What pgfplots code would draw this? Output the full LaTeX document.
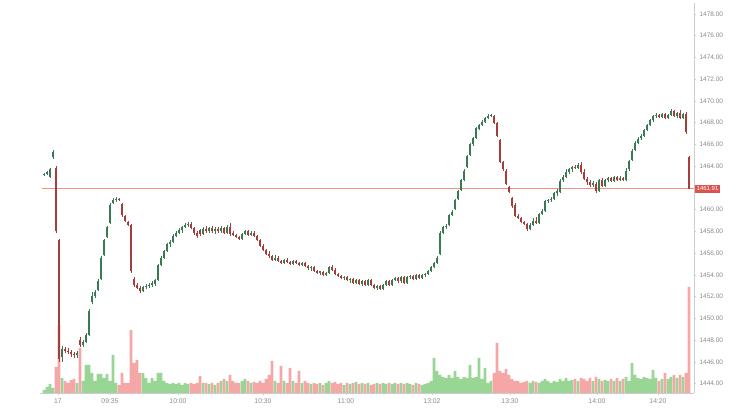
\documentclass[border=0pt]{standalone}
\usepackage{pgfplots}
\pgfplotsset{compat=1.18}
\usepackage{pgfplotstable}
\usepackage{fontspec}
\setmainfont{Liberation Sans}
\definecolor{upc}{HTML}{3A7A52}
\definecolor{dnc}{HTML}{A33E3B}
\definecolor{vup}{HTML}{8ED08A}
\definecolor{vdn}{HTML}{F49C9C}
\definecolor{axc}{HTML}{CCCCCC}
\definecolor{txc}{HTML}{8A8A8A}
\definecolor{lastc}{HTML}{D9534F}
\definecolor{refline}{HTML}{F0907E}
\pgfplotstableread{
x o h l c v
44 1463.2 1463.4 1463.1 1463.3 3
47 1463.3 1463.6 1463.2 1463.5 6
50 1463.0 1463.8 1462.9 1463.7 9
53 1464.8 1465.5 1464.7 1465.3 5
56 1463.8 1464.0 1457.9 1458.0 26
59 1457.2 1457.3 1446.0 1446.3 68
62 1446.5 1447.5 1446.0 1447.2 15
65 1447.2 1447.4 1446.8 1447.0 12
68 1447.0 1447.3 1446.7 1446.9 10
71 1446.9 1447.1 1446.5 1446.7 13
74 1446.7 1446.9 1446.4 1446.6 14
77 1446.6 1447.0 1446.4 1446.8 10
80 1448.0 1448.3 1447.4 1447.6 45
83 1447.6 1448.0 1447.4 1447.8 12
86 1447.8 1448.7 1447.7 1448.5 28
89 1448.5 1450.9 1448.4 1450.7 28
92 1451.5 1452.4 1451.3 1452.1 20
95 1452.1 1452.6 1451.9 1452.4 12
98 1452.6 1453.6 1452.5 1453.4 19
101 1453.6 1455.7 1453.5 1455.6 19
104 1455.8 1457.3 1455.7 1457.2 15
107 1457.5 1458.5 1457.4 1458.4 19
110 1458.8 1460.6 1458.7 1460.4 12
113 1460.6 1461.1 1460.5 1460.9 38
116 1460.9 1461.2 1460.7 1461.0 10
119 1461.0 1461.1 1460.8 1460.9 8
122 1460.5 1460.6 1459.3 1459.5 20
125 1459.4 1459.5 1458.9 1459.0 10
128 1458.9 1459.0 1458.5 1458.6 10
131 1458.6 1458.7 1454.2 1454.4 63
134 1453.6 1453.8 1452.9 1453.1 30
137 1453.1 1453.3 1452.7 1452.8 33
140 1452.8 1453.0 1452.3 1452.5 20
143 1452.5 1453.0 1452.4 1452.9 20
146 1452.9 1453.2 1452.7 1453.0 15
149 1453.0 1453.3 1452.8 1453.1 10
152 1453.1 1453.4 1452.9 1453.2 15
155 1453.2 1453.6 1453.0 1453.5 12
158 1453.5 1455.0 1453.4 1454.9 20
161 1454.9 1455.7 1454.8 1455.6 20
164 1455.6 1456.3 1455.5 1456.2 12
167 1456.2 1456.9 1456.1 1456.8 10
170 1456.8 1457.2 1456.6 1457.0 9
173 1457.0 1457.8 1456.9 1457.6 10
176 1457.6 1458.0 1457.5 1457.9 9
179 1457.9 1458.3 1457.8 1458.1 10
182 1458.1 1458.5 1457.9 1458.4 8
185 1458.4 1458.8 1458.3 1458.6 10
188 1458.6 1458.9 1458.4 1458.7 9
191 1458.7 1458.9 1458.2 1458.3 10
194 1458.3 1458.4 1457.7 1457.9 9
197 1457.9 1458.0 1457.4 1457.6 10
200 1458.1 1458.2 1457.6 1457.8 17
203 1457.8 1458.4 1457.7 1458.2 10
206 1458.2 1458.5 1457.9 1458.0 10
209 1458.0 1458.4 1457.9 1458.3 9
212 1458.3 1458.5 1457.9 1458.0 10
215 1458.0 1458.4 1457.8 1458.2 8
218 1458.2 1458.4 1457.9 1458.0 10
221 1458.0 1458.5 1457.9 1458.3 12
224 1458.3 1458.4 1457.8 1457.9 14
227 1457.9 1458.6 1457.8 1458.4 12
230 1458.4 1458.8 1457.6 1457.8 18
233 1457.8 1458.0 1457.6 1457.7 12
236 1457.7 1457.8 1457.4 1457.5 10
239 1457.5 1457.6 1457.2 1457.3 10
242 1457.3 1457.9 1457.2 1457.8 12
245 1457.8 1458.1 1457.7 1458.0 14
248 1458.0 1458.1 1457.6 1457.7 12
251 1457.7 1458.0 1457.6 1457.9 10
254 1457.9 1458.0 1457.5 1457.6 11
257 1457.6 1457.7 1457.1 1457.2 10
260 1457.2 1457.3 1456.6 1456.7 12
263 1456.7 1456.8 1456.2 1456.3 10
266 1456.3 1456.4 1455.8 1455.9 14
269 1455.9 1456.2 1455.6 1455.7 18
272 1455.7 1455.8 1455.3 1455.4 32
275 1455.4 1455.8 1455.3 1455.6 12
278 1455.6 1455.7 1455.2 1455.3 10
281 1455.3 1455.4 1455.0 1455.1 27
284 1455.1 1455.5 1455.0 1455.4 12
287 1455.4 1455.6 1455.1 1455.2 10
290 1455.2 1455.3 1454.9 1455.0 25
293 1455.0 1455.4 1454.9 1455.3 12
296 1455.3 1455.4 1455.0 1455.1 10
299 1455.1 1455.2 1454.8 1454.9 22
302 1454.9 1455.2 1454.8 1455.1 10
305 1455.1 1455.2 1454.7 1454.8 12
308 1454.8 1454.9 1454.5 1454.6 10
311 1454.6 1454.8 1454.4 1454.7 9
314 1454.7 1454.8 1454.3 1454.4 10
317 1454.4 1454.5 1454.1 1454.2 9
320 1454.2 1454.4 1454.0 1454.3 10
323 1454.3 1454.4 1453.9 1454.0 8
326 1454.0 1454.3 1453.9 1454.2 10
329 1454.2 1454.8 1454.1 1454.7 12
332 1454.7 1454.9 1454.4 1454.5 10
335 1454.5 1454.6 1454.0 1454.1 11
338 1454.1 1454.2 1453.8 1453.9 9
341 1453.9 1454.0 1453.6 1453.7 10
344 1453.7 1453.9 1453.5 1453.8 8
347 1453.8 1453.9 1453.4 1453.5 10
350 1453.5 1453.7 1453.3 1453.6 9
353 1453.6 1453.7 1453.2 1453.3 10
356 1453.3 1453.6 1453.2 1453.5 11
359 1453.5 1453.6 1453.1 1453.2 9
362 1453.2 1453.5 1453.0 1453.4 10
365 1453.4 1453.5 1453.0 1453.1 9
368 1453.1 1453.6 1453.0 1453.5 10
371 1453.5 1453.6 1453.0 1453.1 8
374 1453.1 1453.2 1452.7 1452.8 9
377 1452.8 1453.1 1452.6 1453.0 10
380 1453.0 1453.1 1452.6 1452.7 9
383 1452.7 1453.2 1452.6 1453.1 10
386 1453.1 1453.5 1453.0 1453.4 9
389 1453.4 1453.5 1453.0 1453.1 10
392 1453.1 1453.6 1453.0 1453.5 9
395 1453.5 1453.8 1453.4 1453.7 10
398 1453.7 1453.8 1453.3 1453.4 9
401 1453.4 1453.9 1453.3 1453.8 10
404 1453.8 1453.9 1453.2 1453.3 9
407 1453.3 1453.9 1453.2 1453.8 10
410 1453.8 1454.0 1453.6 1453.9 9
413 1453.9 1454.0 1453.5 1453.6 8
416 1453.6 1454.1 1453.5 1454.0 10
419 1454.0 1454.1 1453.6 1453.7 9
422 1453.7 1454.1 1453.6 1454.0 8
425 1454.0 1454.2 1453.8 1454.1 9
428 1454.1 1454.5 1454.0 1454.4 10
431 1454.4 1454.8 1454.3 1454.7 12
434 1454.7 1455.2 1454.6 1455.1 35
437 1455.1 1455.7 1455.0 1455.6 22
440 1455.9 1458.0 1455.8 1457.9 18
443 1457.9 1458.5 1457.8 1458.4 16
446 1458.4 1458.7 1458.2 1458.5 15
449 1458.6 1459.6 1458.5 1459.5 18
452 1459.5 1460.0 1459.4 1459.8 15
455 1460.1 1461.0 1460.0 1460.9 22
458 1461.0 1461.8 1460.9 1461.7 16
461 1461.8 1462.8 1461.7 1462.7 14
464 1462.7 1463.7 1462.6 1463.6 16
467 1463.9 1465.0 1463.8 1464.9 15
470 1465.0 1466.1 1464.9 1466.0 28
473 1466.0 1466.7 1465.9 1466.6 15
476 1466.6 1467.6 1466.5 1467.5 16
479 1467.4 1467.9 1467.3 1467.8 35
482 1467.8 1468.2 1467.7 1468.1 14
485 1468.1 1468.5 1468.0 1468.4 25
488 1468.4 1468.8 1468.3 1468.6 10
491 1468.6 1468.8 1468.5 1468.7 12
494 1468.6 1468.7 1467.9 1468.0 20
497 1468.0 1468.1 1466.7 1466.8 50
500 1466.4 1466.5 1464.3 1464.4 22
503 1464.4 1464.5 1463.6 1463.7 20
506 1463.6 1463.7 1462.3 1462.4 24
509 1462.1 1462.2 1461.5 1461.6 18
512 1461.1 1461.2 1460.2 1460.3 14
515 1460.4 1460.6 1459.3 1459.4 12
518 1459.4 1459.6 1459.1 1459.2 12
521 1459.2 1459.3 1458.8 1458.9 10
524 1458.9 1459.0 1458.6 1458.7 11
527 1458.7 1458.8 1458.0 1458.2 12
530 1458.2 1458.8 1458.1 1458.6 10
533 1458.6 1459.2 1458.5 1459.0 12
536 1459.0 1459.3 1458.7 1458.8 11
539 1458.8 1459.7 1458.7 1459.6 10
542 1459.6 1460.1 1459.5 1459.9 12
545 1459.9 1460.9 1459.8 1460.8 14
548 1460.8 1461.0 1460.6 1460.9 12
551 1460.9 1461.2 1460.7 1461.0 10
554 1461.0 1461.6 1460.9 1461.5 12
557 1461.5 1461.9 1461.3 1461.7 11
560 1461.6 1462.8 1461.5 1462.6 14
563 1462.7 1463.2 1462.5 1463.0 12
566 1463.0 1463.7 1462.9 1463.5 15
569 1463.5 1463.8 1463.3 1463.7 12
572 1463.7 1464.0 1463.5 1463.9 13
575 1463.9 1464.1 1463.7 1463.8 14
578 1463.8 1464.3 1463.7 1464.1 12
581 1464.1 1464.4 1463.3 1463.5 15
584 1463.5 1463.7 1462.7 1462.8 14
587 1462.8 1463.0 1462.3 1462.5 12
590 1462.5 1462.7 1462.1 1462.3 15
593 1462.3 1462.6 1462.1 1462.4 12
596 1462.4 1462.5 1461.5 1461.7 16
599 1461.7 1462.8 1461.6 1462.7 14
602 1462.7 1462.9 1462.1 1462.2 12
605 1462.2 1462.8 1462.1 1462.7 13
608 1462.7 1463.0 1462.5 1462.9 12
611 1462.9 1463.0 1462.5 1462.6 14
614 1462.6 1463.1 1462.5 1463.0 12
617 1463.0 1463.1 1462.6 1462.7 15
620 1462.7 1463.1 1462.6 1462.9 12
623 1462.9 1463.0 1462.6 1462.7 14
626 1462.7 1463.8 1462.6 1463.6 16
629 1463.7 1464.6 1463.6 1464.5 12
632 1464.6 1465.6 1464.5 1465.4 30
635 1465.5 1466.3 1465.4 1466.1 18
638 1466.1 1466.7 1466.0 1466.5 15
641 1466.6 1467.0 1466.4 1466.8 14
644 1466.8 1467.4 1466.7 1467.3 16
647 1467.3 1467.9 1467.2 1467.8 15
650 1467.8 1468.3 1467.7 1468.2 14
653 1468.2 1468.7 1468.1 1468.6 23
656 1468.6 1468.9 1468.4 1468.7 15
659 1468.7 1468.8 1468.4 1468.5 12
662 1468.5 1468.9 1468.4 1468.8 14
665 1468.8 1468.9 1468.3 1468.4 20
668 1468.4 1468.8 1468.3 1468.7 14
671 1468.7 1469.3 1468.6 1469.1 16
674 1469.1 1469.2 1468.5 1468.6 18
677 1468.6 1469.0 1468.4 1468.9 15
680 1468.9 1469.2 1468.3 1468.4 18
683 1468.4 1468.9 1468.3 1468.8 16
686 1468.8 1469.0 1467.0 1467.1 20
689 1464.8 1464.9 1461.9 1461.91 106
}\data
\pgfplotsset{
  candle/.style 2 args={draw=none, mark=none, forget plot,
    restrict expr to domain={\thisrow{c}-\thisrow{o}}{#2},
    error bars/.cd, y dir=plus, y explicit, error mark=none,
    error bar style={draw=#1, line cap=butt}},
}
\begin{document}
\begin{tikzpicture}
\useasboundingbox (-40pt,-18pt) rectangle (708pt,393pt);
% volume
\begin{axis}[
  at={(0pt,0pt)}, anchor=south west,
  width=654pt, height=390pt, scale only axis,
  xmin=40, xmax=694, ymin=0, ymax=390,
  hide axis,
  ybar, bar width=2.8pt, bar shift=0pt,
]
\addplot[fill=vup, draw=none, fill opacity=0.9,
  restrict expr to domain={\thisrow{c}-\thisrow{o}}{0:100}] table[x=x,y=v]{\data};
\addplot[fill=vdn, draw=none, fill opacity=0.9,
  restrict expr to domain={\thisrow{c}-\thisrow{o}}{-100:-0.001}] table[x=x,y=v]{\data};
\end{axis}
% price
\begin{axis}[
  at={(0pt,0pt)}, anchor=south west,
  width=654pt, height=390pt, scale only axis,
  xmin=40, xmax=694, ymin=1443.15, ymax=1479.0,
  axis x line*=bottom, axis y line*=right,
  axis line style={axc, line width=0.6pt},
  tick align=outside, major tick length=2pt,
  tick style={axc, line width=0.5pt},
  xtick={58,110,178,263,346,432,510,597,658},
  xticklabels={17,09:35,10:00,10:30,11:00,13:02,13:30,14:00,14:20},
  ytick={1444,1446,1448,1450,1452,1454,1456,1458,1460,1464,1466,1468,1470,1472,1474,1476,1478},
  /pgf/number format/assume math mode=true,
  yticklabel style={/pgf/number format/fixed, /pgf/number format/fixed zerofill,
    /pgf/number format/precision=2, /pgf/number format/1000 sep={},
    font=\fontsize{6.5}{7}\selectfont, text=txc},
  xticklabel style={font=\fontsize{6.8}{7}\selectfont, text=txc},
  clip mode=individual,
]
\addplot[draw=refline, mark=none, line width=1.1pt, forget plot] coordinates {(42,1461.91) (694,1461.91)};
% wicks
\addplot[candle={upc}{0:100}, error bar style={line width=0.8pt}]
  table[x=x, y=l, y error plus expr={\thisrow{h}-\thisrow{l}}]{\data};
\addplot[candle={dnc}{-100:-0.001}, error bar style={line width=0.8pt}]
  table[x=x, y=l, y error plus expr={\thisrow{h}-\thisrow{l}}]{\data};
% bodies
\addplot[candle={upc}{0:100}, error bar style={line width=2.3pt}]
  table[x=x, y expr={min(\thisrow{o},\thisrow{c})}, y error plus expr={max(abs(\thisrow{c}-\thisrow{o}),0.12)}]{\data};
\addplot[candle={dnc}{-100:-0.001}, error bar style={line width=2.3pt}]
  table[x=x, y expr={min(\thisrow{o},\thisrow{c})}, y error plus expr={max(abs(\thisrow{c}-\thisrow{o}),0.12)}]{\data};
\node[fill=lastc, text=white, font=\fontsize{6}{7}\selectfont, inner xsep=1.5pt, inner ysep=1.5pt, anchor=west]
  at (axis cs:695,1461.91) {1461.91};
\end{axis}
\end{tikzpicture}
\end{document}
